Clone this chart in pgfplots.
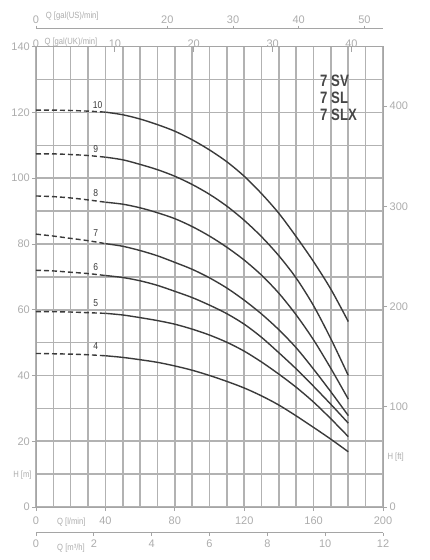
\documentclass[border=0pt]{standalone}
\usepackage{fontspec}
\setmainfont{Liberation Sans}
\usepackage{graphicx}
\usepackage{pgfplots}
\pgfplotsset{compat=1.18}
\definecolor{axc}{RGB}{165,165,165}
\definecolor{gridc}{RGB}{178,178,178}
\definecolor{tlc}{RGB}{172,172,172}
\definecolor{curvec}{RGB}{58,58,58}
\definecolor{titc}{RGB}{70,70,70}
\newcommand\cond[1]{\scalebox{0.85}[1]{#1}}
\pgfplotsset{
 base/.style={scale only axis, width=347pt,
   /pgf/number format/assume math mode=true,
   ticklabel style={font=\fontsize{11}{12}\selectfont, text=tlc},
   axis line style={axc, line width=0.9pt},
   tick style={axc, line width=0.9pt},
 },
 pump/.style={curvec, line width=1.4pt, smooth, no marks},
 pumpd/.style={curvec, line width=1.4pt, smooth, no marks, dash pattern=on 5pt off 3pt},
}
\tikzset{
 lab/.style={font=\fontsize{9}{10}\selectfont, text=tlc, inner sep=0pt},
 clab/.style={font=\fontsize{10}{11}\selectfont, text=curvec, inner sep=0pt},
}
\begin{document}
\begin{tikzpicture}
% main axis
\begin{axis}[base, height=460.3pt, at={(0,0)}, anchor=south west,
 xmin=0, xmax=200, ymin=0, ymax=140,
 xtick={0,40,...,200}, minor x tick num=3,
 ytick={0,20,...,140}, minor y tick num=1,
 grid=both,
 major grid style={draw=gridc, line width=1.6pt},
 minor grid style={draw=gridc, line width=1.6pt},
 xtick pos=bottom, ytick pos=left, tick align=outside, major tick length=4pt, minor tick length=0pt,
 xticklabel style={anchor=center, yshift=-10pt},
 yticklabel style={inner sep=2pt},
 clip=false]
% curve 10
\addplot[pumpd] coordinates {(0,120.7) (10,120.7) (20,120.6) (30,120.4) (40,120.1)};
\addplot[pump] coordinates {(40,120.1) (50,119.3) (60,118.0) (70,116.3) (80,114.3) (90,111.7) (100,108.6) (110,105.0) (120,100.6) (130,95.3) (140,89.3) (150,82.2) (160,74.6) (170,66.2) (180,56.4)};
% curve 9
\addplot[pumpd] coordinates {(0,107.4) (10,107.4) (20,107.2) (30,106.9) (40,106.4)};
\addplot[pump] coordinates {(40,106.4) (50,105.6) (60,104.2) (70,102.6) (80,100.6) (90,98.1) (100,95.1) (110,91.5) (120,87.2) (130,82.2) (140,76.4) (150,69.6) (160,61.2) (170,51.1) (180,40.0)};
% curve 8
\addplot[pumpd] coordinates {(0,94.6) (10,94.4) (20,94.0) (30,93.4) (40,92.7)};
\addplot[pump] coordinates {(40,92.7) (50,92.1) (60,91.0) (70,89.5) (80,87.7) (90,85.3) (100,82.4) (110,79.0) (120,75.1) (130,70.5) (140,65.0) (150,58.4) (160,50.8) (170,42.1) (180,32.8)};
% curve 7
\addplot[pumpd] coordinates {(0,83.0) (10,82.4) (20,81.7) (30,81.0) (40,80.1)};
\addplot[pump] coordinates {(40,80.1) (50,79.3) (60,78.0) (70,76.4) (80,74.4) (90,72.3) (100,69.7) (110,66.6) (120,62.9) (130,58.7) (140,53.9) (150,48.4) (160,41.9) (170,35.0) (180,27.8)};
% curve 6
\addplot[pumpd] coordinates {(0,72.0) (10,71.8) (20,71.4) (30,71.0) (40,70.4)};
\addplot[pump] coordinates {(40,70.4) (50,69.8) (60,68.8) (70,67.4) (80,65.6) (90,63.7) (100,61.4) (110,58.8) (120,55.6) (130,51.6) (140,46.9) (150,42.0) (160,36.7) (170,31.2) (180,25.5)};
% curve 5
\addplot[pumpd] coordinates {(0,59.4) (10,59.4) (20,59.3) (30,59.1) (40,58.9)};
\addplot[pump] coordinates {(40,58.9) (50,58.4) (60,57.6) (70,56.7) (80,55.6) (90,54.1) (100,52.3) (110,50.1) (120,47.4) (130,44.1) (140,40.4) (150,36.4) (160,31.9) (170,26.8) (180,21.4)};
% curve 4
\addplot[pumpd] coordinates {(0,46.7) (10,46.6) (20,46.5) (30,46.3) (40,46.0)};
\addplot[pump] coordinates {(40,46.0) (50,45.5) (60,44.8) (70,44.0) (80,42.9) (90,41.6) (100,40.0) (110,38.2) (120,36.2) (130,33.8) (140,31.0) (150,27.7) (160,24.2) (170,20.6) (180,16.8)};
% curve labels
\node[clab] at (axis cs:35.5,122.3) {\cond{10}};
\node[clab] at (axis cs:34.4,108.8) {\cond{9}};
\node[clab] at (axis cs:34.4,95.4) {\cond{8}};
\node[clab] at (axis cs:34.4,83.2) {\cond{7}};
\node[clab] at (axis cs:34.4,73.1) {\cond{6}};
\node[clab] at (axis cs:34.4,61.95) {\cond{5}};
\node[clab] at (axis cs:34.4,48.97) {\cond{4}};
% title
\node[anchor=west, inner sep=0pt, font=\bfseries\fontsize{16.5}{17}\selectfont, text=titc] at (axis cs:163.7,129.6) {\scalebox{0.8}[1]{7 SV}};
\node[anchor=west, inner sep=0pt, font=\bfseries\fontsize{16.5}{17}\selectfont, text=titc] at (axis cs:163.7,124.55) {\scalebox{0.8}[1]{7 SL}};
\node[anchor=west, inner sep=0pt, font=\bfseries\fontsize{16.5}{17}\selectfont, text=titc] at (axis cs:163.7,119.4) {\scalebox{0.8}[1]{7 SLX}};
% axis labels
\node[lab] at (axis cs:-7.8,9.7) {\cond{H [m]}};
\node[lab] at (axis cs:207.3,15.1) {\cond{H [ft]}};
\node[lab] at (axis cs:20.35,-4.47) {\cond{Q [l/min]}};
\node[lab] at (axis cs:20.2,-12.56) {\cond{Q [m³/h]}};
\node[lab] at (axis cs:20.9,149.3) {\cond{Q [gal(US)/min]}};
\node[lab] at (axis cs:20.1,141.5) {\cond{Q [gal(UK)/min]}};
\end{axis}
% feet axis
\begin{axis}[base, height=460.3pt, at={(0,0)}, anchor=south west,
 hide x axis, axis y line*=right, xmin=0, xmax=200, ymin=0, ymax=459.318,
 ytick={0,100,...,400}, tick align=outside, major tick length=4pt,
 yticklabel style={inner sep=2.5pt}]
\addplot[draw=none] coordinates {(0,0)};
\end{axis}
% gal UK axis
\begin{axis}[base, height=460.3pt, at={(0,0)}, anchor=south west,
 hide y axis, axis x line*=top, xmin=0, xmax=43.9941, ymin=0, ymax=1,
 xtick={0,10,...,40}, tick align=inside, major tick length=5pt,
 xticklabel style={anchor=center, yshift=3pt}]
\addplot[draw=none] coordinates {(0,0)};
\end{axis}
% gal US axis
\begin{axis}[base, height=1pt, at={(0,477.3pt)}, anchor=south west,
 hide y axis, axis x line*=top, xmin=0, xmax=52.8344, ymin=0, ymax=1,
 xtick={0,20,30,40,50}, tick align=outside, major tick length=3pt,
 xticklabel style={anchor=center, yshift=6pt}]
\addplot[draw=none] coordinates {(0,0)};
\end{axis}
% m3/h axis
\begin{axis}[base, height=1pt, at={(0,-25.7pt)}, anchor=south west,
 hide y axis, axis x line*=bottom, xmin=0, xmax=12, ymin=0, ymax=1,
 xtick={0,2,...,12}, tick align=outside, major tick length=3pt,
 xticklabel style={anchor=center, yshift=-8pt}]
\addplot[draw=none] coordinates {(0,0)};
\end{axis}
\pgfresetboundingbox
\useasboundingbox (-36pt,-53pt) rectangle (394pt,507pt);
\end{tikzpicture}
\end{document}
